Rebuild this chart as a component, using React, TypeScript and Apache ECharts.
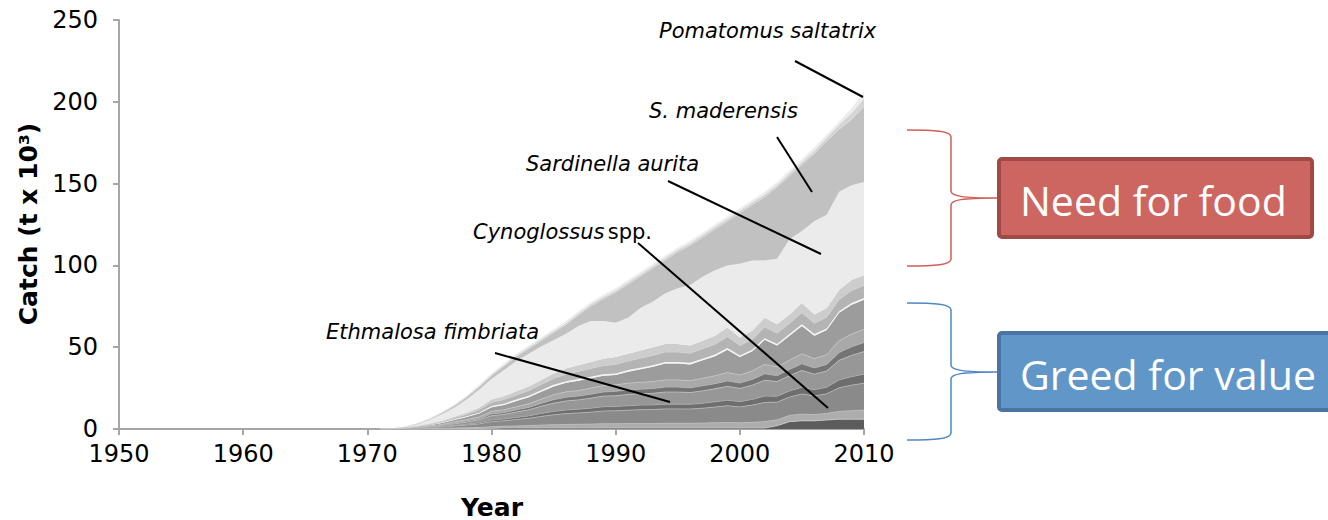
import React, { useEffect, useRef } from "react";
import * as echarts from "echarts";

// Category axis: every year from 1950 to 2010
const X_CATEGORIES = [
  "1950", "1951", "1952", "1953", "1954", "1955", "1956", "1957", "1958", "1959",
  "1960", "1961", "1962", "1963", "1964", "1965", "1966", "1967", "1968", "1969",
  "1970", "1971", "1972", "1973", "1974", "1975", "1976", "1977", "1978", "1979",
  "1980", "1981", "1982", "1983", "1984", "1985", "1986", "1987", "1988", "1989",
  "1990", "1991", "1992", "1993", "1994", "1995", "1996", "1997", "1998", "1999",
  "2000", "2001", "2002", "2003", "2004", "2005", "2006", "2007", "2008", "2009",
  "2010",
];

// Years with catches (before 1971 all layers are zero)
const YEARS = [
  1971, 1972, 1973, 1974, 1975, 1976, 1977, 1978, 1979, 1980,
  1981, 1982, 1983, 1984, 1985, 1986, 1987, 1988, 1989, 1990,
  1991, 1992, 1993, 1994, 1995, 1996, 1997, 1998, 1999, 2000,
  2001, 2002, 2003, 2004, 2005, 2006, 2007, 2008, 2009, 2010,
];

// "Greed for value" group (bottom, dark layers), in t x 10^3
const L1 = [0, 0, 0, 0, 0.1, 0.1, 0.2, 0.2, 0.3, 0.4,
  0.6, 0.6, 0.6, 0.6, 0.6, 0.6, 0.6, 0.6, 0.6, 0.6,
  0.6, 0.6, 0.6, 0.6, 0.6, 0.6, 0.6, 0.6, 0.6, 0.6,
  0.6, 0.6, 2, 4.5, 5, 5, 5.5, 6, 6, 6];
const L2 = [0, 0, 0.05, 0.1, 0.2, 0.3, 0.4, 0.6, 0.7, 1.0,
  1.1, 1.3, 1.5, 1.8, 2.0, 2.2, 2.3, 2.4, 2.6, 2.6,
  2.7, 2.8, 2.8, 2.9, 2.9, 2.9, 3.0, 3.2, 3.4, 3.2,
  3.5, 3.9, 3.6, 3.8, 4.1, 3.8, 4.0, 4.8, 5.2, 5.5];
const L3 = [0, 0.05, 0.15, 0.3, 0.5, 0.8, 1.2, 1.6, 2.1, 3.1,
  3.3, 3.9, 4.4, 5.3, 6.1, 6.6, 6.9, 7.3, 7.8, 7.9,
  8.2, 8.4, 8.5, 8.8, 8.8, 8.7, 9.1, 9.6, 10.2, 9.7,
  10.5, 11.7, 10.8, 11.2, 12.3, 11.4, 12, 14.4, 15.6, 16.5];
const L4 = [0, 0, 0.05, 0.1, 0.2, 0.3, 0.4, 0.5, 0.7, 1.0,
  1.1, 1.3, 1.5, 1.8, 2.0, 2.2, 2.3, 2.4, 2.6, 2.6,
  2.7, 2.8, 2.8, 2.9, 2.9, 2.9, 3.0, 3.2, 3.4, 3.2,
  3.5, 3.9, 3.6, 3.7, 4.1, 3.8, 4.0, 4.8, 5.2, 5.5];
const L5 = [0, 0.03, 0.13, 0.25, 0.4, 0.7, 1.0, 1.4, 1.8, 2.6,
  2.8, 3.3, 3.7, 4.4, 5.1, 5.5, 5.7, 6.1, 6.5, 6.6,
  6.9, 7.0, 7.1, 7.4, 7.4, 7.2, 7.6, 8.0, 8.5, 8.1,
  8.7, 9.7, 9.0, 9.4, 10.3, 9.5, 10, 12, 13, 13.8];
const L6 = [0, 0, 0.05, 0.1, 0.2, 0.3, 0.4, 0.6, 0.7, 1.1,
  1.1, 1.3, 1.5, 1.7, 2.1, 2.3, 2.3, 2.5, 2.5, 2.7,
  2.8, 2.7, 2.9, 3.0, 3.0, 2.9, 3.1, 3.1, 3.3, 3.3,
  3.5, 3.9, 3.6, 3.8, 4.1, 3.8, 4.0, 4.8, 5.2, 5.5];
const L7 = [0, 0.02, 0.07, 0.15, 0.2, 0.3, 0.7, 0.8, 1.1, 1.6,
  1.7, 1.9, 2.2, 2.6, 3.1, 3.3, 3.4, 3.7, 3.9, 4.0,
  4.1, 4.2, 4.3, 4.4, 4.4, 4.3, 4.6, 4.8, 5.1, 4.9,
  5.2, 5.8, 5.4, 5.6, 6.1, 5.7, 6, 7.2, 7.8, 8.2];
const BLOCK = [0, 0.05, 0.1, 0.3, 0.5, 0.8, 1.2, 1.6, 2, 2.5,
  3, 3.5, 4, 4.5, 5, 5.5, 6, 6, 6, 6,
  7, 8, 9, 10, 10, 10, 11, 12, 14, 11,
  12, 15, 13, 15, 17, 14, 15, 17, 18, 18];
const WHITE = [0, 0, 0, 0.1, 0.2, 0.3, 0.4, 0.5, 0.6, 0.7,
  0.8, 0.9, 1, 1, 1, 1, 1, 1, 1, 1,
  1, 1, 1, 1, 1, 1, 1, 1, 1, 1,
  1, 1, 1, 1, 1, 1, 1, 1, 1, 1];
const S1 = [0, 0.03, 0.1, 0.2, 0.4, 0.6, 0.9, 1.2, 1.7, 2.2,
  2.5, 2.8, 3.1, 3.5, 3.9, 4.3, 4.7, 5.0, 5.2, 5.5,
  5.5, 5.8, 6.0, 6.0, 6.0, 5.8, 6.0, 6.3, 6.9, 6.0,
  6.3, 6.9, 6.6, 6.6, 7.1, 6.6, 6.9, 7.1, 7.7, 7.7];
const S2 = [0, 0.02, 0.1, 0.2, 0.3, 0.5, 0.7, 1.0, 1.3, 1.8,
  2.0, 2.2, 2.5, 2.8, 3.1, 3.5, 3.8, 4.0, 4.3, 4.5,
  4.5, 4.7, 5.0, 5.0, 5.0, 4.7, 5.0, 5.2, 5.6, 5.0,
  5.2, 5.6, 5.4, 5.4, 5.9, 5.4, 5.6, 5.9, 6.3, 6.3];

// "Need for food" group
const SARDINELLA_AURITA = [0, 0.1, 0.4, 1.0, 2.3, 4, 5.5, 8, 11, 12.5,
  16, 18.5, 20, 20.4, 20.3, 21.2, 24, 25, 23, 21,
  22, 26, 28, 31, 34, 37, 39, 40, 38, 45,
  43, 35, 40, 46, 44, 57, 57, 60, 58, 57];
const S_MADERENSIS = [0, 0.1, 0.1, 0.4, 0.5, 0.8, 1.1, 1.4, 1.7, 2,
  2.3, 2.6, 3, 3.5, 4.5, 5.5, 6.5, 9, 13.5, 18.4,
  20.4, 19.3, 20.3, 20.2, 22.2, 24.2, 24.1, 25.1, 27, 31,
  33.9, 38.8, 43.7, 38.6, 40.5, 41.3, 45, 38, 40, 46];
const POMATOMUS_SALTATRIX = [0, 0.05, 0.1, 0.15, 0.25, 0.35, 0.45, 0.55, 0.65, 0.75,
  0.85, 0.95, 1, 1.05, 1.1, 1.15, 1.2, 1.25, 1.25, 1.3,
  1.3, 1.35, 1.35, 1.4, 1.4, 1.4, 1.45, 1.45, 1.5, 1.5,
  1.55, 1.6, 1.65, 1.7, 1.75, 1.85, 2, 3, 4, 5];
const OTHERS_TOP = [0, 0.05, 0.1, 0.15, 0.25, 0.35, 0.45, 0.55, 0.65, 0.75,
  0.85, 0.95, 1, 1.05, 1.1, 1.15, 1.2, 1.25, 1.25, 1.3,
  1.3, 1.35, 1.35, 1.4, 1.4, 1.4, 1.45, 1.45, 1.5, 1.5,
  1.55, 1.6, 1.65, 1.7, 1.75, 1.85, 2, 2, 3, 4];

const LAYERS = [
  { name: "Other A", data: L1, color: "#5c5c5c", edge: "#c8c8c8" },
  { name: "Other B", data: L2, color: "#adadad", edge: "#bdbdbd" },
  { name: "Cynoglossus spp.", data: L3, color: "#8a8a8a", edge: "#b8b8b8" },
  { name: "Other C", data: L4, color: "#6e6e6e", edge: "#a8a8a8" },
  { name: "Ethmalosa fimbriata", data: L5, color: "#979797", edge: "#c0c0c0" },
  { name: "Other D", data: L6, color: "#747474", edge: "#b0b0b0" },
  { name: "Other E", data: L7, color: "#a9a9a9", edge: "#c4c4c4" },
  { name: "Other F", data: BLOCK, color: "#9c9c9c", edge: "" },
  { name: "Other G", data: WHITE, color: "#f4f4f4", edge: "" },
  { name: "Other H", data: S1, color: "#b4b4b4", edge: "#d0d0d0" },
  { name: "Other I", data: S2, color: "#cdcdcd", edge: "" },
  { name: "Sardinella aurita", data: SARDINELLA_AURITA, color: "#ebebeb", edge: "" },
  { name: "S. maderensis", data: S_MADERENSIS, color: "#c1c1c1", edge: "" },
  { name: "Pomatomus saltatrix", data: POMATOMUS_SALTATRIX, color: "#d5d5d5", edge: "" },
  { name: "Other J", data: OTHERS_TOP, color: "#ececec", edge: "" },
];

const Y_TICKS = { min: 0, max: 250, interval: 50 };

const FONT = "'DejaVu Sans', Verdana, sans-serif";
const BOX_FONT = "'Open Sans', 'Noto Sans', sans-serif";

const RED_BRACE =
  "M907,130 C935,130 951,131 951,137 L951,191 C951,196 962,198 997,198 C962,198 951,200 951,205 L951,259 C951,265 935,266 907,266";
const BLUE_BRACE =
  "M907,303 C935,303 951,304 951,310 L951,365 C951,370 962,372 997,372 C962,372 951,374 951,379 L951,433 C951,439 935,440 907,440";

export default function App() {
  const ref = useRef<HTMLDivElement>(null);

  useEffect(() => {
    if (!ref.current) return;
    echarts.graphic.registerShape("braceRed", echarts.graphic.extendPath(RED_BRACE, {}));
    echarts.graphic.registerShape("braceBlue", echarts.graphic.extendPath(BLUE_BRACE, {}));
    const chart = echarts.init(ref.current, null, { renderer: "svg" });

    const series = LAYERS.map((l) => ({
      name: l.name,
      type: "line",
      stack: "catch",
      symbol: "none",
      lineStyle: l.edge ? { width: 0.8, color: l.edge } : { width: 0 },
      areaStyle: { color: l.color, opacity: 1 },
      itemStyle: { color: l.color },
      data: YEARS.map((y, i) => [String(y), l.data[i]]),
      silent: true,
    }));

    const italic = (text: string, x: number, y: number) => ({
      type: "text",
      z: 100,
      x,
      y,
      style: {
        text,
        fill: "#000",
        fontFamily: FONT,
        fontSize: 21,
        fontStyle: "italic",
        textAlign: "left",
        textVerticalAlign: "middle",
      },
    });
    const pointer = (x1: number, y1: number, x2: number, y2: number) => ({
      type: "line",
      z: 100,
      shape: { x1, y1, x2, y2 },
      style: { stroke: "#000", lineWidth: 2 },
    });

    chart.setOption({
      animation: false,
      grid: { left: 119, right: 464, top: 20, bottom: 91 },
      xAxis: {
        type: "category",
        data: X_CATEGORIES,
        boundaryGap: false,
        axisLine: { show: true, lineStyle: { color: "#a6a6a6", width: 2 } },
        axisTick: {
          show: true,
          length: 6,
          interval: 9,
          lineStyle: { color: "#a6a6a6", width: 2 },
        },
        splitLine: { show: false },
        axisLabel: {
          interval: 9,
          color: "#000",
          fontFamily: FONT,
          fontSize: 24,
          lineHeight: 22,
          margin: 14,
        },
      },
      yAxis: {
        type: "value",
        min: Y_TICKS.min,
        max: Y_TICKS.max,
        interval: Y_TICKS.interval,
        axisLine: { show: true, lineStyle: { color: "#a6a6a6", width: 2 } },
        axisTick: { show: true, length: 6, lineStyle: { color: "#a6a6a6", width: 2 } },
        splitLine: { show: false },
        axisLabel: { color: "#000", fontFamily: FONT, fontSize: 24, lineHeight: 18, margin: 21 },
      },
      series,
      graphic: [
        {
          type: "text",
          z: 100,
          x: 28,
          y: 224,
          rotation: Math.PI / 2,
          style: {
            text: "Catch (t x 10³)",
            fill: "#000",
            fontFamily: FONT,
            fontSize: 25,
            fontWeight: "bold",
            textAlign: "center",
            textVerticalAlign: "middle",
          },
        },
        {
          type: "text",
          z: 100,
          x: 492,
          y: 507,
          style: {
            text: "Year",
            fill: "#000",
            fontFamily: FONT,
            fontSize: 25,
            fontWeight: "bold",
            textAlign: "center",
            textVerticalAlign: "middle",
          },
        },
        italic("Pomatomus saltatrix", 659, 31),
        italic("S. maderensis", 649, 111),
        italic("Sardinella aurita", 526, 164),
        {
          type: "text",
          z: 100,
          x: 473,
          y: 232,
          style: {
            text: "{i|Cynoglossus} {n|spp.}",
            fill: "#000",
            textAlign: "left",
            textVerticalAlign: "middle",
            rich: {
              i: { fontFamily: FONT, fontSize: 21, fontStyle: "italic", fill: "#000" },
              n: { fontFamily: FONT, fontSize: 21, fill: "#000" },
            },
          },
        },
        italic("Ethmalosa fimbriata", 326, 332),
        pointer(795, 61, 863, 97),
        pointer(777, 137, 812, 192),
        pointer(668, 181, 821, 254),
        pointer(638, 243, 828, 408),
        pointer(495, 353, 670, 402),
        {
          type: "braceRed",
          z: 100,
          x: 0,
          y: 0,
          style: { fill: "none", stroke: "#d05d57", lineWidth: 1.5 },
        },
        {
          type: "braceBlue",
          z: 100,
          x: 0,
          y: 0,
          style: { fill: "none", stroke: "#4f87c5", lineWidth: 1.5 },
        },
        {
          type: "rect",
          z: 100,
          shape: { x: 999, y: 159, width: 313, height: 78, r: 3 },
          style: { fill: "#cd6660", stroke: "#a04a45", lineWidth: 4 },
        },
        {
          type: "text",
          z: 101,
          x: 1020,
          y: 200,
          style: {
            text: "Need for food",
            fill: "#fff",
            fontFamily: BOX_FONT,
            fontSize: 41,
            textAlign: "left",
            textVerticalAlign: "middle",
          },
        },
        {
          type: "rect",
          z: 100,
          shape: { x: 999, y: 333, width: 340, height: 77, r: 3 },
          style: { fill: "#6196c9", stroke: "#4a74a3", lineWidth: 4 },
        },
        {
          type: "text",
          z: 101,
          x: 1020,
          y: 374,
          style: {
            text: "Greed for value",
            fill: "#fff",
            fontFamily: BOX_FONT,
            fontSize: 41,
            textAlign: "left",
            textVerticalAlign: "middle",
          },
        },
      ],
    });

    return () => chart.dispose();
  }, []);

  return (
    <div
      ref={ref}
      style={{ position: "fixed", left: 0, top: 0, width: 1328, height: 520, background: "#fff" }}
    />
  );
}
